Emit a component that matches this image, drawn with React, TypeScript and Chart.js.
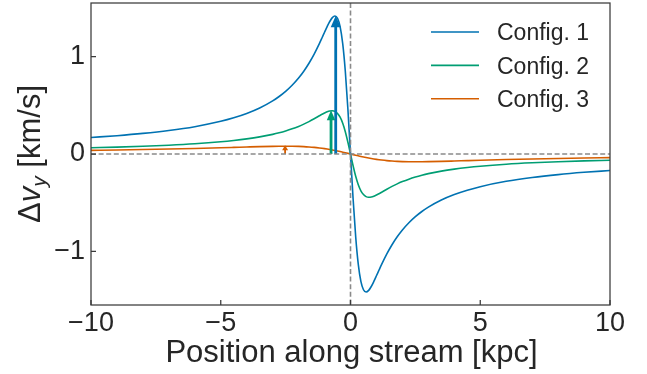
import React, { useEffect, useRef } from 'react';
import { Chart, registerables } from 'chart.js';

Chart.register(...registerables);

// ---- data ----
const positions = [
  -10, -9, -8, -7, -6, -5, -4.5, -4, -3.5, -3, -2.75, -2.5, -2.25, -2, -1.8, -1.6, -1.4, -1.2, -1.1, -1,
  -0.9, -0.8, -0.7, -0.6, -0.5, -0.4, -0.3, -0.2, -0.1, 0,
  0.1, 0.2, 0.3, 0.4, 0.5, 0.6, 0.7, 0.8, 0.9, 1, 1.1, 1.2, 1.4, 1.6, 1.8, 2, 2.25, 2.5, 2.75, 3,
  3.5, 4, 4.5, 5, 6, 7, 8, 9, 10,
];

const config1 = [
  0.1694, 0.1881, 0.2113, 0.2411, 0.2805, 0.3352, 0.3712, 0.4156, 0.4718, 0.5449, 0.5901, 0.643, 0.7054, 0.7798,
  0.85, 0.9315, 1.0259, 1.1333, 1.1911, 1.25, 1.3077, 1.36, 1.4, 1.4167, 1.3934, 1.3077, 1.1333, 0.85, 0.4595, 0,
  -0.4595, -0.85, -1.1333, -1.3077, -1.3934, -1.4167, -1.4, -1.36, -1.3077, -1.25, -1.1911, -1.1333, -1.0259,
  -0.9315, -0.85, -0.7798, -0.7054, -0.643, -0.5901, -0.5449, -0.4718, -0.4156, -0.3712, -0.3352, -0.2805,
  -0.2411, -0.2113, -0.1881, -0.1694,
];

const config2 = [
  0.0637, 0.0707, 0.0794, 0.0905, 0.1052, 0.1254, 0.1387, 0.155, 0.1754, 0.2017, 0.2178, 0.2364, 0.258, 0.2833,
  0.3065, 0.3326, 0.3615, 0.3922, 0.4073, 0.4215, 0.4336, 0.442, 0.4443, 0.4372, 0.4164, 0.3774, 0.3156, 0.2292,
  0.1211, 0,
  -0.1211, -0.2292, -0.3156, -0.3774, -0.4164, -0.4372, -0.4443, -0.442, -0.4336, -0.4215, -0.4073, -0.3922,
  -0.3615, -0.3326, -0.3065, -0.2833, -0.258, -0.2364, -0.2178, -0.2017, -0.1754, -0.155, -0.1387, -0.1254,
  -0.1052, -0.0905, -0.0794, -0.0707, -0.0637,
];

const config3 = [
  0.0376, 0.0413, 0.0456, 0.0507, 0.0568, 0.064, 0.0679, 0.0719, 0.0757, 0.0787, 0.0796, 0.08, 0.0796, 0.078,
  0.0759, 0.0726, 0.0682, 0.0624, 0.059, 0.0552, 0.051, 0.0464, 0.0415, 0.0363, 0.0308, 0.025, 0.0189, 0.0127,
  0.0064, 0,
  -0.0064, -0.0127, -0.0189, -0.025, -0.0308, -0.0363, -0.0415, -0.0464, -0.051, -0.0552, -0.059, -0.0624,
  -0.0682, -0.0726, -0.0759, -0.078, -0.0796, -0.08, -0.0796, -0.0787, -0.0757, -0.0719, -0.0679, -0.064,
  -0.0568, -0.0507, -0.0456, -0.0413, -0.0376,
];

const seriesLabels = ['Config. 1', 'Config. 2', 'Config. 3'];
const seriesColors = ['#0072B2', '#009E73', '#D55E00'];

const xTicks = [-10, -5, 0, 5, 10];
const yTicks = [-1, 0, 1];

// arrows marking each peak: position, base and tip value
const arrowX = [-0.57, -0.75, -2.52];
const arrowBase = [0, 0, 0];
const arrowTip = [1.42, 0.45, 0.09];

const xTitle = 'Position along stream [kpc]';

// ---- styles ----
const FONT = '"Liberation Sans", Arial, Helvetica, sans-serif';
const TEXT = '#262626';
const arrowStyle = [
  { shaft: 2.8, headW: 10, headL: 11.5 },
  { shaft: 2.8, headW: 8.5, headL: 10 },
  { shaft: 1.8, headW: 6, headL: 5 },
];

const fmt = (v: number) => (v < 0 ? '\u2212' + Math.abs(v) : String(v));

const decor = {
  id: 'decor',
  afterDatasetsDraw(chart: any) {
    const { ctx, chartArea: a, scales } = chart;
    const x = scales.x;
    const y = scales.y;
    // arrows
    arrowX.forEach((ax, i) => {
      const st = arrowStyle[i];
      const px = x.getPixelForValue(ax);
      const pb = y.getPixelForValue(arrowBase[i]);
      const pt = y.getPixelForValue(arrowTip[i]);
      ctx.save();
      ctx.fillStyle = seriesColors[i];
      ctx.fillRect(px - st.shaft / 2, pt + st.headL - 0.5, st.shaft, pb - pt - st.headL + 0.5);
      ctx.beginPath();
      ctx.moveTo(px, pt);
      ctx.lineTo(px - st.headW / 2, pt + st.headL);
      ctx.lineTo(px + st.headW / 2, pt + st.headL);
      ctx.closePath();
      ctx.fill();
      ctx.restore();
    });
    // dashed zero lines
    ctx.save();
    ctx.strokeStyle = '#8a8a8a';
    ctx.lineWidth = 1.6;
    ctx.setLineDash([5, 2.6]);
    const x0 = x.getPixelForValue(0);
    const y0 = y.getPixelForValue(0);
    ctx.beginPath();
    ctx.moveTo(a.left, y0);
    ctx.lineTo(a.right, y0);
    ctx.stroke();
    ctx.beginPath();
    ctx.moveTo(x0, a.top);
    ctx.lineTo(x0, a.bottom);
    ctx.stroke();
    ctx.restore();
  },
  afterDraw(chart: any) {
    const { ctx, chartArea: a, scales } = chart;
    const x = scales.x;
    const y = scales.y;
    ctx.save();
    // frame
    ctx.strokeStyle = '#3a3a3a';
    ctx.lineWidth = 1.25;
    ctx.strokeRect(a.left, a.top, a.right - a.left, a.bottom - a.top);
    // inward ticks
    ctx.beginPath();
    xTicks.forEach((v) => {
      const p = x.getPixelForValue(v);
      ctx.moveTo(p, a.bottom);
      ctx.lineTo(p, a.bottom - 5);
    });
    yTicks.forEach((v) => {
      const p = y.getPixelForValue(v);
      ctx.moveTo(a.left, p);
      ctx.lineTo(a.left + 5, p);
    });
    ctx.stroke();

    // legend
    const lx = 431;
    const lineLen = 48;
    const ly0 = 32;
    const gap = 33.4;
    chart.data.datasets.forEach((ds: any, i: number) => {
      const yy = ly0 + i * gap;
      ctx.strokeStyle = ds.borderColor;
      ctx.lineWidth = 1.6;
      ctx.beginPath();
      ctx.moveTo(lx, yy);
      ctx.lineTo(lx + lineLen, yy);
      ctx.stroke();
      ctx.fillStyle = TEXT;
      ctx.font = `23px ${FONT}`;
      ctx.textAlign = 'left';
      ctx.textBaseline = 'alphabetic';
      ctx.fillText(ds.label, lx + 66, yy + 8.3);
    });

    // x title
    ctx.fillStyle = TEXT;
    ctx.font = `31px ${FONT}`;
    ctx.textAlign = 'center';
    ctx.textBaseline = 'alphabetic';
    ctx.fillText(xTitle, (a.left + a.right) / 2 + 1, 362);

    // y title: Δv_y [km/s]
    const big = `31px ${FONT}`;
    const bigIt = `italic 31px ${FONT}`;
    const subIt = `italic 21px ${FONT}`;
    const parts = [
      { t: '\u0394', f: big, dy: 0 },
      { t: 'v', f: bigIt, dy: 0 },
      { t: 'y', f: subIt, dy: 6 },
      { t: ' [km/s]', f: big, dy: 0 },
    ];
    let total = 0;
    const widths = parts.map((p) => {
      ctx.font = p.f;
      const w = ctx.measureText(p.t).width;
      total += w;
      return w;
    });
    ctx.translate(40, (a.top + a.bottom) / 2);
    ctx.rotate(-Math.PI / 2);
    ctx.textAlign = 'left';
    let cx = -total / 2;
    parts.forEach((p, i) => {
      ctx.font = p.f;
      ctx.fillText(p.t, cx, p.dy);
      cx += widths[i];
    });
    ctx.restore();
  },
};

export default function App() {
  const ref = useRef<HTMLCanvasElement | null>(null);
  useEffect(() => {
    document.body.style.margin = '0';
    const canvas = ref.current;
    if (!canvas) return;
    const series = [config1, config2, config3];
    const chart = new Chart(canvas, {
      type: 'line',
      data: {
        datasets: series.map((s, i) => ({
          label: seriesLabels[i],
          data: positions.map((p, j) => ({ x: p, y: s[j] })),
          borderColor: seriesColors[i],
          backgroundColor: seriesColors[i],
          borderWidth: 1.6,
          pointRadius: 0,
          fill: false,
          cubicInterpolationMode: 'monotone' as const,
        })),
      },
      options: {
        responsive: false,
        animation: false,
        devicePixelRatio: 1,
        layout: { padding: { top: 3, right: 37, left: 0, bottom: 0 } },
        plugins: { legend: { display: false }, tooltip: { enabled: false } },
        scales: {
          x: {
            type: 'linear',
            min: -10,
            max: 10,
            afterBuildTicks: (s: any) => {
              s.ticks = xTicks.map((v) => ({ value: v }));
            },
            afterFit: (s: any) => {
              s.height = 69;
              s.paddingLeft = 0;
              s.paddingRight = 0;
            },
            grid: { display: false, drawTicks: false },
            border: { display: false },
            ticks: {
              padding: 2,
              color: TEXT,
              font: { family: FONT, size: 27 },
              maxRotation: 0,
              autoSkip: false,
              callback: (v: any) => fmt(Number(v)),
            },
          },
          y: {
            type: 'linear',
            min: -1.55,
            max: 1.55,
            afterBuildTicks: (s: any) => {
              s.ticks = yTicks.map((v) => ({ value: v }));
            },
            afterFit: (s: any) => {
              s.width = 91;
              s.paddingTop = 0;
              s.paddingBottom = 0;
            },
            grid: { display: false, drawTicks: false },
            border: { display: false },
            ticks: {
              padding: 6,
              color: TEXT,
              font: { family: FONT, size: 27 },
              autoSkip: false,
              callback: (v: any) => fmt(Number(v)),
            },
          },
        },
      },
      plugins: [decor],
    });
    return () => chart.destroy();
  }, []);
  return <canvas ref={ref} width={647} height={374} style={{ display: 'block' }} />;
}
